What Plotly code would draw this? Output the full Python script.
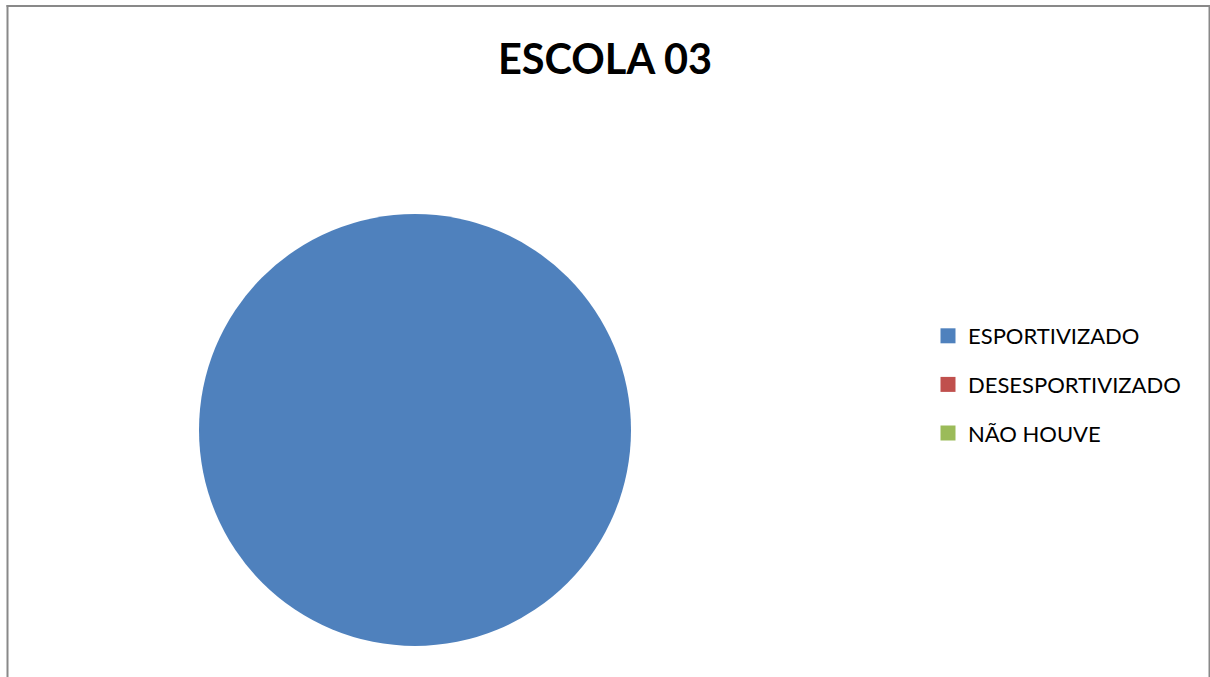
import plotly.graph_objects as go

W, H = 1210, 677

title_text = "ESCOLA 03"
categories = ["ESPORTIVIZADO", "DESESPORTIVIZADO", "NÃO HOUVE"]
values = [100, 0, 0]
colors = ["#4F81BD", "#C0504D", "#9BBB59"]

fig = go.Figure()

# pie placement (pixels -> paper)
cx, cy, r = 415, 430, 216
fig.add_trace(go.Pie(
    labels=categories,
    values=values,
    marker=dict(colors=colors, line=dict(width=0)),
    sort=False,
    direction="clockwise",
    textinfo="none",
    showlegend=False,
    domain=dict(x=[(cx - r) / W, (cx + r) / W], y=[1 - (cy + r) / H, 1 - (cy - r) / H]),
))

# legend entries
for i, (lab, col) in enumerate(zip(categories, colors)):
    fig.add_trace(go.Scatter(
        x=[None], y=[None], mode="markers", name=lab,
        legendgroup=f"g{i}",
        marker=dict(symbol="square", size=15, color=col),
    ))

frame = "#898989"
shapes = [
    dict(type="line", xref="paper", yref="paper", x0=7.5 / W, x1=7.5 / W, y0=0, y1=1 - 5 / H,
         line=dict(color=frame, width=2)),
    dict(type="line", xref="paper", yref="paper", x0=6.5 / W, x1=1209.5 / W, y0=1 - 6 / H, y1=1 - 6 / H,
         line=dict(color=frame, width=2)),
    dict(type="line", xref="paper", yref="paper", x0=1209.5 / W, x1=1209.5 / W, y0=0, y1=1 - 5 / H,
         line=dict(color=frame, width=2)),
]

fig.update_layout(
    width=W, height=H,
    margin=dict(l=0, r=0, t=0, b=0),
    paper_bgcolor="white", plot_bgcolor="white",
    title=dict(text="<b>" + title_text + "</b>", x=0.5, xanchor="center",
               y=1 - 59 / H, yref="container", yanchor="middle",
               font=dict(family="Lato", size=41.5, color="black")),
    xaxis=dict(visible=False), yaxis=dict(visible=False),
    legend=dict(x=928 / W, xanchor="left", y=1 - 315 / H, yanchor="top",
                font=dict(family="Lato", size=22, color="black"),
                tracegroupgap=17, itemclick=False, bgcolor="rgba(0,0,0,0)"),
    shapes=shapes,
)

fig.write_html("out.html")
